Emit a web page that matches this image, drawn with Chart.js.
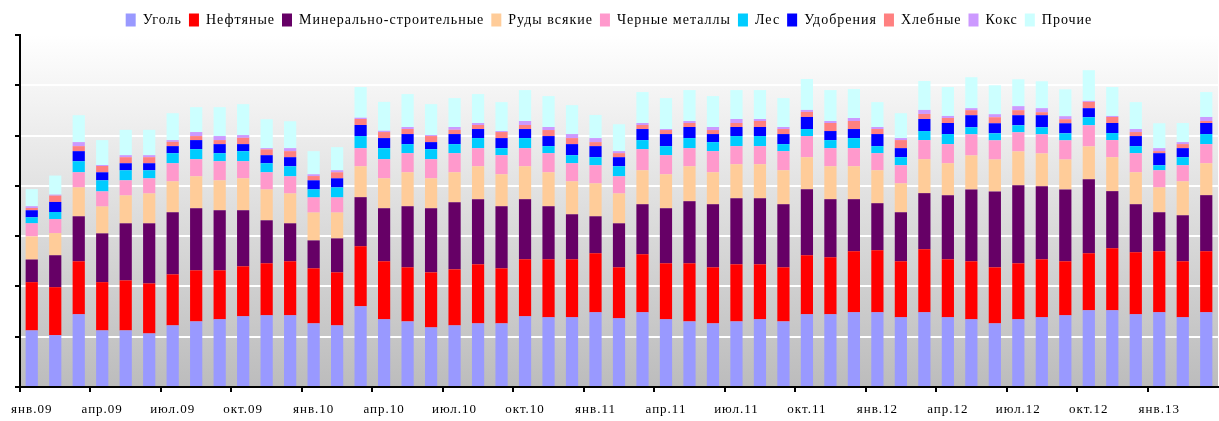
<!DOCTYPE html>
<html lang="ru">
<head>
<meta charset="UTF-8">
<title>Погрузка по видам грузов</title>
<script src="https://cdn.jsdelivr.net/npm/chart.js"></script>
<style>
  html, body { margin: 0; padding: 0; background: #fff; }
  #wrap { width: 1219px; height: 421px; }
</style>
</head>
<body>
<div id="wrap"><canvas id="myChart"></canvas></div>
<script>
  const months = [
    "янв.09","фев.09","мар.09","апр.09","май.09","июн.09","июл.09","авг.09","сен.09","окт.09","ноя.09","дек.09",
    "янв.10","фев.10","мар.10","апр.10","май.10","июн.10","июл.10","авг.10","сен.10","окт.10","ноя.10","дек.10",
    "янв.11","фев.11","мар.11","апр.11","май.11","июн.11","июл.11","авг.11","сен.11","окт.11","ноя.11","дек.11",
    "янв.12","фев.12","мар.12","апр.12","май.12","июн.12","июл.12","авг.12","сен.12","окт.12","ноя.12","дек.12",
    "янв.13","фев.13","мар.13"
  ];

  // values (gridline step = 20)
  const coal = [22.5,20.6,28.9,22.5,22.5,21.3,24.5,26.1,26.9,28.1,28.5,28.5,
                25.3,24.5,32.1,26.9,26.1,23.7,24.5,25.3,25.3,28.1,27.7,27.7,
                29.7,27.3,29.7,26.9,26.1,25.3,26.1,26.9,26.1,28.9,28.9,29.7,
                29.7,27.7,29.7,27.7,26.9,25.3,26.9,27.7,28.5,30.5,30.5,28.9,
                29.7,27.7,29.7];
  const oil = [19.2,19.1,21.1,19.2,19.9,19.9,20.3,20.3,19.5,19.9,20.7,21.5,
               21.9,21.1,23.9,23.1,21.5,21.9,22.3,23.5,21.9,22.7,23.1,23.1,
               23.5,20.3,23.1,22.3,23.1,22.3,22.7,21.9,21.5,23.5,22.7,24.3,
               24.7,22.3,25.1,23.1,23.1,22.3,22.3,23.1,21.5,22.7,24.7,24.7,
               24.3,22.3,24.3];
  const mineral = [9.0,12.7,17.9,19.4,22.7,23.9,24.7,24.7,23.9,22.3,17.1,15.1,
                   11.1,13.5,19.5,21.1,24.3,25.5,26.7,25.9,24.7,23.9,21.1,17.9,
                   14.7,17.5,19.9,21.9,24.7,25.1,26.3,26.3,25.1,26.3,23.1,20.7,
                   18.7,19.5,22.3,25.5,28.6,30.2,31.0,29.0,28.6,29.4,22.7,19.1,
                   15.5,18.3,22.3];
  const ores = [9.2,8.8,11.5,10.7,11.1,11.9,12.3,12.7,11.9,12.7,12.3,11.9,
                11.1,10.3,12.3,11.9,13.5,11.9,11.9,13.1,12.7,13.1,13.5,13.1,
                13.1,11.9,13.5,13.5,13.9,12.7,13.5,13.5,13.5,12.7,13.1,13.1,
                13.1,11.5,13.5,12.7,13.5,12.7,13.5,13.1,11.9,13.1,13.5,12.7,
                9.9,13.5,12.7];
  const metals = [5.2,5.6,6.0,6.0,6.0,6.0,7.2,6.8,7.6,6.8,6.8,6.8,
                  6.0,6.0,7.2,7.6,7.6,7.6,7.6,7.2,7.6,7.2,7.6,7.2,
                  7.2,6.8,8.4,7.6,7.2,8.4,7.2,7.2,7.6,8.4,7.2,7.2,
                  6.8,7.2,7.6,7.6,8.4,7.6,7.6,7.6,7.6,8.4,6.8,7.6,
                  6.8,6.4,7.6];
  const timber = [2.4,2.8,4.4,4.4,4.0,3.2,4.0,4.0,3.2,4.0,3.6,4.0,
                  3.2,4.0,4.8,4.4,3.6,4.0,3.6,4.0,2.8,4.0,2.8,3.2,
                  3.2,4.0,3.6,3.6,4.0,3.6,4.0,4.0,2.8,2.8,3.2,4.0,
                  2.8,3.2,3.6,4.0,2.8,2.8,2.8,2.8,2.8,3.2,2.8,2.8,
                  2.0,3.2,4.0];
  const fertilizers = [2.8,4.0,4.0,3.2,2.8,2.8,2.8,3.6,3.6,2.8,3.2,3.6,
                       3.6,3.6,4.4,4.0,4.0,2.8,4.0,3.6,4.0,3.6,4.0,4.4,
                       4.4,3.6,4.4,4.8,4.4,3.2,3.6,3.6,4.0,4.8,3.6,3.6,
                       4.8,3.6,4.8,4.4,4.8,4.0,4.0,4.8,4.0,3.6,4.0,4.0,
                       4.8,3.6,4.4];
  const grain = [0.9,2.5,2.0,2.5,2.4,2.4,1.7,1.6,1.6,2.5,2.3,2.4,
                 1.7,2.4,2.4,2.4,2.0,2.4,1.7,1.6,2.4,1.6,2.4,2.4,
                 1.6,1.6,1.6,1.6,1.6,1.6,1.6,2.4,2.0,2.0,3.2,3.2,
                 2.0,3.2,2.0,2.0,2.0,2.4,2.0,1.2,1.6,2.5,2.4,1.6,
                 0.8,1.6,0.8];
  const coke = [0.7,0.4,1.6,0.4,0.8,0.8,0.7,1.6,1.6,1.1,0.5,1.2,
                0.7,0.8,0.5,0.5,0.8,0.4,1.1,0.8,0.4,1.6,1.2,1.6,
                1.6,0.8,0.8,0.4,0.8,1.2,1.6,0.8,0.8,0.8,0.8,1.2,
                0.8,0.8,1.6,0.8,0.8,1.2,1.6,1.6,1.2,0.4,0.4,1.2,
                1.2,0.8,1.6];
  const other = [6.8,7.6,10.7,9.9,10.1,10.1,10.7,9.9,11.5,12.3,11.5,10.7,
                 9.2,9.2,12.2,11.5,13.1,12.3,11.5,11.5,11.5,12.3,12.3,11.5,
                 9.2,10.7,12.3,12.3,12.3,12.3,11.5,11.5,11.5,12.3,12.3,11.5,
                 9.9,9.9,11.5,11.5,12.3,11.5,10.7,10.7,10.7,12.2,11.5,10.7,
                 9.9,7.6,9.9];

  const seriesNames = ["Уголь","Нефтяные","Минерально-строительные","Руды всякие","Черные металлы",
                       "Лес","Удобрения","Хлебные","Кокс","Прочие"];
  const seriesData = [coal, oil, mineral, ores, metals, timber, fertilizers, grain, coke, other];
  const seriesColors = ["#9999FF","#FF0000","#660066","#FFCC99","#FF99CC",
                        "#00CCFF","#0000FF","#FF8080","#CC99FF","#CCFFFF"];

  const serif = "'Liberation Serif', 'Times New Roman', serif";

  const excelLook = {
    id: "excelLook",
    beforeInit(chart) {
      const fit = chart.legend.fit;
      chart.legend.fit = function () {
        fit.call(this);
        this.height = 29;
      };
    },
    beforeUpdate(chart) { chart.ctx.letterSpacing = "1px"; },
    beforeDraw(chart) {
      const { ctx, chartArea: a } = chart;
      ctx.letterSpacing = "1px";
      const g = ctx.createLinearGradient(0, a.top, 0, a.bottom);
      g.addColorStop(0, "#ffffff");
      g.addColorStop(1, "#bcbcbc");
      ctx.save();
      ctx.fillStyle = g;
      ctx.fillRect(a.left, a.top, a.right - a.left, a.bottom - a.top);
      ctx.restore();
    }
  };

  new Chart(document.getElementById("myChart"), {
    type: "bar",
    data: {
      labels: months,
      datasets: seriesNames.map((name, i) => ({
        label: name,
        data: seriesData[i],
        backgroundColor: seriesColors[i],
        borderWidth: 0,
        categoryPercentage: 1,
        barPercentage: 0.52
      }))
    },
    options: {
      responsive: true,
      maintainAspectRatio: false,
      animation: false,
      layout: { padding: { left: 0, right: 1, top: 6, bottom: 0 } },
      plugins: {
        tooltip: { enabled: false },
        legend: {
          position: "top",
          labels: {
            boxWidth: 10,
            boxHeight: 13,
            padding: 7,
            color: "#000",
            font: { family: serif, size: 14 }
          }
        }
      },
      scales: {
        x: {
          stacked: true,
          grid: {
            offset: true,
            drawOnChartArea: false,
            tickLength: 5,
            lineWidth: 2,
            tickColor: (c) => (c.index % 3 === 0 ? "#000" : "rgba(0,0,0,0)")
          },
          border: { color: "#000", width: 2 },
          ticks: {
            autoSkip: false,
            maxRotation: 0,
            padding: 10,
            color: "#000",
            font: { family: serif, size: 13 },
            callback: function (v, i) { return i % 3 === 0 ? this.getLabelForValue(v) : ""; }
          },
          afterFit(scale) { scale.height = 34; }
        },
        y: {
          stacked: true,
          min: 0,
          max: 140,
          ticks: { display: false, stepSize: 20 },
          grid: { color: "#ffffff", lineWidth: 2, tickColor: "#000", tickLength: 5 },
          border: { color: "#000", width: 2 },
          afterFit(scale) { scale.width = 20; }
        }
      }
    },
    plugins: [excelLook]
  });
</script>
</body>
</html>
